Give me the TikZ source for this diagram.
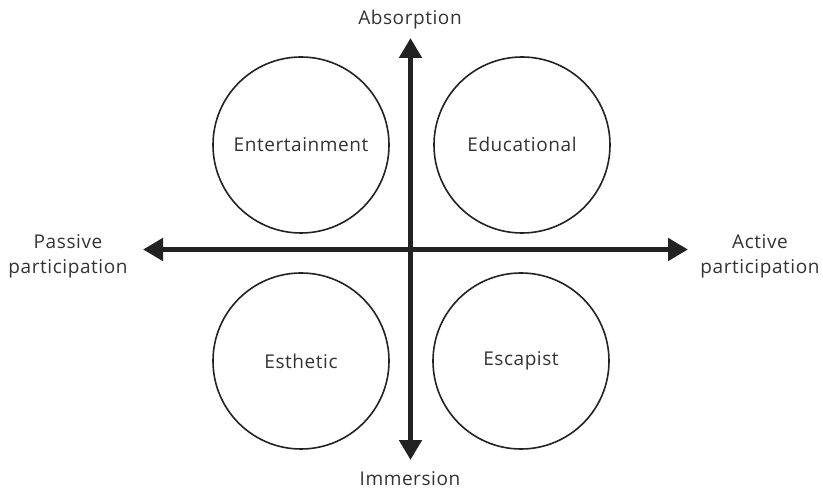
\documentclass[tikz,border=0pt]{standalone}
\usepackage{fontspec}
\setmainfont{Open Sans}[LetterSpace=3]
\usetikzlibrary{arrows.meta}
\definecolor{ink}{HTML}{222222}
\definecolor{txt}{HTML}{333333}
\begin{document}
\begin{tikzpicture}[x=1pt,y=-1pt,
  quad/.style={circle,draw=ink,line width=1.6pt,minimum size=176pt,inner sep=0pt,text=txt,font=\fontsize{19}{22}\selectfont},
  lbl/.style={text=txt,font=\fontsize{19}{25}\selectfont,align=center,inner sep=0pt},
  axis/.style={draw=ink,line width=5pt,{Triangle[length=20pt,width=22pt]}-{Triangle[length=20pt,width=22pt]}}]
\useasboundingbox (0,0) rectangle (823,489);
\node[quad] (ent) at (301,145) {\raisebox{1pt}{Entertainment}};
\node[quad] (edu) at (522,145) {\raisebox{1pt}{Educational}};
\node[quad] (est) at (301,361) {Esthetic};
\node[quad] (esc) at (521,361) {Escapist};
\coordinate (top) at (410.5,38);
\coordinate (bot) at (410.5,460);
\coordinate (lft) at (143,249.5);
\coordinate (rgt) at (688,249.5);
\draw[axis] (bot) -- (top);
\draw[axis] (lft) -- (rgt);
\node[lbl] (abs) at (410,20) {Absorption};
\node[lbl] (imm) at (410,479) {Immersion};
\node[lbl] (pas) at (68,256) {Passive\\participation};
\node[lbl] (act) at (760,256) {Active\\participation};
\end{tikzpicture}
\end{document}
